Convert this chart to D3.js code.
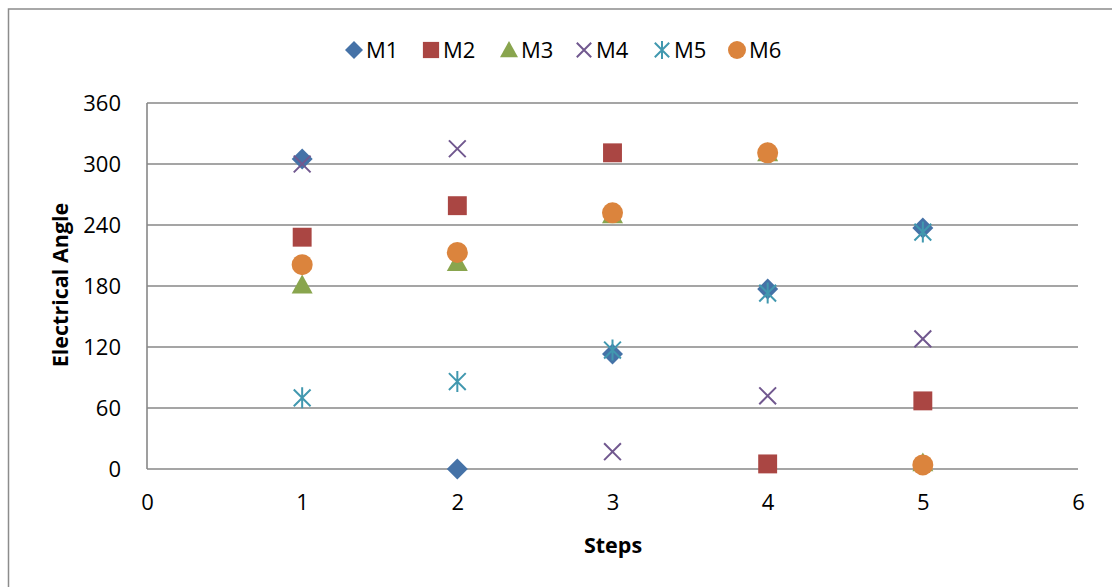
<!DOCTYPE html>
<html><head><meta charset="utf-8">
<script src="https://cdn.jsdelivr.net/npm/d3@7"></script>
<style>body{margin:0;background:#fff}svg{display:block}text{font-family:"Open Sans",sans-serif}</style>
</head><body><svg id="c" width="1112" height="587"></svg>
<script>
const steps = [1, 2, 3, 4, 5];
const seriesNames = ["M1", "M2", "M3", "M4", "M5", "M6"];
const M1 = [305, 0, 113, 177, 237];
const M2 = [228, 259, 311, 5, 67];
const M3 = [181, 203, 250, 311, 6];
const M4 = [300, 315, 17, 72, 128];
const M5 = [70, 86, 117, 173, 233];
const M6 = [201, 213, 252, 311, 4];
const colors = ["#4572A7", "#AA4643", "#89A54E", "#71588F", "#4198AF", "#DB843D"];
const shapes = ["diamond", "square", "triangle", "x", "star", "circle"];
const xTicks = [0, 1, 2, 3, 4, 5, 6];
const yTicks = [0, 60, 120, 180, 240, 300, 360];

const svg = d3.select("#c");
svg.append("rect").attr("x", 8.5).attr("y", 9).attr("width", 1120).attr("height", 600)
  .attr("fill", "#fff").attr("stroke", "#8c8c8c").attr("stroke-width", 1.5);

const x = d3.scaleLinear().domain([0, 6]).range([147, 1078]);
const y = d3.scaleLinear().domain([0, 360]).range([469, 103]);

// grid
svg.append("g").selectAll("line").data(yTicks).join("line")
  .attr("x1", x(0)).attr("x2", x(6)).attr("y1", d => y(d)).attr("y2", d => y(d))
  .attr("stroke", "#878787").attr("stroke-width", 1.6);
svg.append("line").attr("x1", x(0)).attr("x2", x(0)).attr("y1", y(0)).attr("y2", y(360))
  .attr("stroke", "#878787").attr("stroke-width", 1.6);

const ya = svg.append("g").attr("transform", `translate(${x(0)},0)`)
  .call(d3.axisLeft(y).tickValues(yTicks).tickFormat(d3.format("d")).tickSize(0).tickPadding(26));
ya.select(".domain").remove();
ya.selectAll("text").attr("font-size", 22).attr("fill", "#000").attr("font-family", "Open Sans");
const xa = svg.append("g").attr("transform", `translate(0,${y(0)})`)
  .call(d3.axisBottom(x).tickValues(xTicks).tickFormat(d3.format("d")).tickSize(0).tickPadding(25));
xa.select(".domain").remove();
xa.selectAll("text").attr("font-size", 22).attr("fill", "#000").attr("font-family", "Open Sans");

svg.append("text").attr("x", 613).attr("y", 553).attr("text-anchor", "middle")
  .attr("font-size", 21.5).attr("font-weight", "bold").text("Steps");
svg.append("text").attr("transform", "translate(68,285) rotate(-90)").attr("text-anchor", "middle")
  .attr("font-size", 21.5).attr("font-weight", "bold").text("Electrical Angle");

function drawMarker(g, shape, color, s) {
  const h = s / 2;
  if (shape === "diamond") g.append("path").attr("d", `M0,${-h}L${h},0L0,${h}L${-h},0Z`).attr("fill", color);
  else if (shape === "square") g.append("rect").attr("x", -h * 0.9).attr("y", -h * 0.9).attr("width", s * 0.9).attr("height", s * 0.9).attr("fill", color);
  else if (shape === "triangle") g.append("path").attr("d", `M0,${-h}L${h},${h * 0.8}L${-h},${h * 0.8}Z`).attr("fill", color);
  else if (shape === "circle") g.append("circle").attr("r", h).attr("fill", color);
  else if (shape === "x") {
    const a = h * 0.8;
    g.append("path").attr("d", `M${-a},${-a}L${a},${a}M${a},${-a}L${-a},${a}`).attr("stroke", color).attr("stroke-width", 2).attr("fill", "none");
  } else if (shape === "star") {
    const a = h * 0.8;
    g.append("path").attr("d", `M${-a},${-a}L${a},${a}M${a},${-a}L${-a},${a}M0,${-h}L0,${h}`).attr("stroke", color).attr("stroke-width", 2).attr("fill", "none");
  }
}

const data = [M1, M2, M3, M4, M5, M6];
data.forEach((vals, i) => {
  const g = svg.append("g");
  vals.forEach((v, j) => {
    const m = g.append("g").attr("transform", `translate(${x(steps[j])},${y(v)})`);
    drawMarker(m, shapes[i], colors[i], 21);
  });
});

// legend
const legX = [354, 431, 509, 584, 662, 737];
seriesNames.forEach((n, i) => {
  const m = svg.append("g").attr("transform", `translate(${legX[i]},50)`);
  drawMarker(m, shapes[i], colors[i], 18);
  svg.append("text").attr("x", legX[i] + 12).attr("y", 57.5).attr("font-size", 22).text(n);
});
</script></body></html>
